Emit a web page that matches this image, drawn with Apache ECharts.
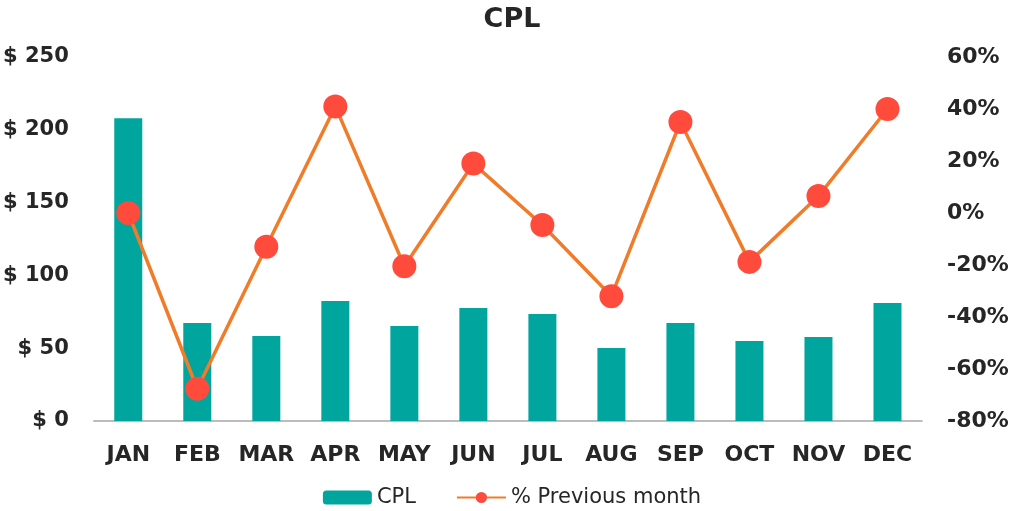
<!DOCTYPE html>
<html>
<head>
<meta charset="utf-8">
<style>html,body{margin:0;padding:0;background:#fff;}#c{width:1024px;height:511px;}</style>
<script src="https://cdn.jsdelivr.net/npm/echarts@6/dist/echarts.min.js"></script>
</head>
<body>
<div id="c"></div>
<script>
var months = ['JAN','FEB','MAR','APR','MAY','JUN','JUL','AUG','SEP','OCT','NOV','DEC'];
var cpl = [208, 67.3, 58.4, 82.4, 65.2, 77.6, 73.5, 50.1, 67.3, 55, 57.7, 81];
var pctPrev = [0, -67.6, -13, 41, -20.5, 19, -4.6, -32, 35, -18.8, 6.5, 40];
var leftTicks = {min: 0, max: 250, interval: 50};
var rightTicks = {min: -80, max: 60, interval: 20};

var font = 'DejaVu Sans';
var chart = echarts.init(document.getElementById('c'));
chart.setOption({
  animation: false,
  title: {
    text: 'CPL', left: 'center', top: 1,
    textStyle: {fontFamily: font, fontWeight: 'bold', fontSize: 27, color: '#262626'}
  },
  legend: {
    top: 482, left: 'center', itemGap: 40,
    itemWidth: 49, itemHeight: 14,
    textStyle: {fontFamily: font, fontSize: 21, color: '#262626'},
    data: ['CPL', '% Previous month']
  },
  grid: {left: 92, right: 102, top: 57, bottom: 90},
  xAxis: {
    type: 'category', data: months,
    axisLine: {lineStyle: {color: '#A6A6A6', width: 1.5}},
    axisTick: {show: false},
    axisLabel: {interval: 0, fontFamily: font, fontWeight: 'bold', fontSize: 22, color: '#262626', margin: 23}
  },
  yAxis: [{
    type: 'value', min: leftTicks.min, max: leftTicks.max, interval: leftTicks.interval,
    splitLine: {show: false}, axisLine: {show: false}, axisTick: {show: false},
    axisLabel: {fontFamily: font, fontWeight: 'bold', fontSize: 21, color: '#262626', margin: 25,
      formatter: function (v) { return '$ ' + v; }}
  }, {
    type: 'value', min: rightTicks.min, max: rightTicks.max, interval: rightTicks.interval,
    splitLine: {show: false}, axisLine: {show: false}, axisTick: {show: false},
    axisLabel: {fontFamily: font, fontWeight: 'bold', fontSize: 22, color: '#262626', margin: 25,
      formatter: function (v) { return v + '%'; }}
  }],
  series: [{
    name: 'CPL', type: 'bar', data: cpl, barWidth: 28,
    itemStyle: {color: '#00A59E'}
  }, {
    name: '% Previous month', type: 'line', yAxisIndex: 1, data: pctPrev,
    symbol: 'circle', symbolSize: 24, z: 5,
    lineStyle: {color: '#F07C2A', width: 3.5},
    itemStyle: {color: '#FF4B3C'}
  }]
});
</script>
</body>
</html>
